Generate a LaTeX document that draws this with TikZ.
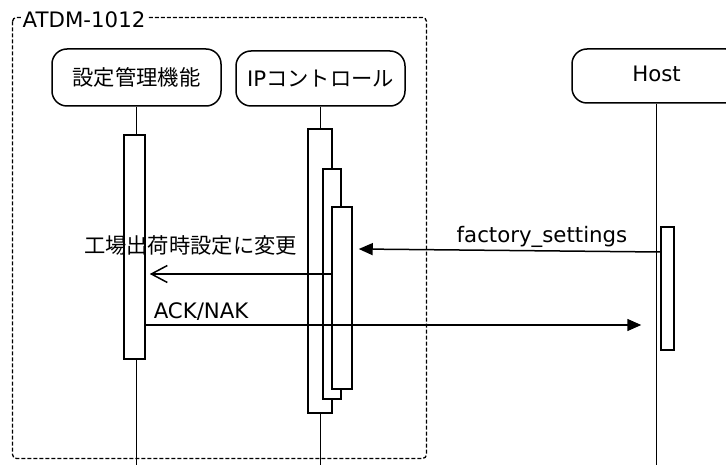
\documentclass[tikz,border=0pt]{standalone}
\usepackage{fontspec}
\setmainfont{DejaVu Sans}
\newfontfamily\cjk{Noto Sans CJK JP}
\usetikzlibrary{arrows.meta}
\begin{document}
\begin{tikzpicture}[x=1pt,y=-1pt, line width=1.5pt,
  every node/.style={font=\fontsize{21.3}{25}\selectfont},
  lifebox/.style={draw, rounded corners=15pt, minimum width=169pt, inner sep=0pt},
  actbox/.style={draw, fill=white, inner sep=0pt},
  lbl/.style={inner sep=0pt},
  frame/.style={draw, dash pattern=on 4pt off 2pt, rounded corners=4pt, line width=1.3pt},
  msg/.style={-{Triangle[length=14pt,width=12pt]}},
  reply/.style={-{Straight Barb[length=16pt,width=17pt]}}]
\clip (0,0) rectangle (726,465);
\fill[white] (0,0) rectangle (726,465);
% frame
\draw[frame] (12.5,17.5) rectangle (426.5,458.5);
\node[lbl, fill=white, inner xsep=2pt, anchor=base west] (atdm) at (20,28) {ATDM-1012};
% lifeline heads
\node[lifebox, minimum height=57pt] (sk) at (136.5,77.5) {\cjk 設定管理機能};
\node[lifebox, minimum height=55pt] (ip) at (320.5,78.5) {IP{\cjk コントロール}};
\node[lifebox, minimum height=54pt] (host) at (656.5,76) {};
\node[lbl, anchor=base] (hostt) at (656.5,82) {Host};
% lifelines
\draw (sk.south) -- (sk.south |- 0,465);
\draw (ip.south) -- (ip.south |- 0,465);
\draw (host.south) -- (host.south |- 0,465);
% activations
\node[actbox, minimum width=21pt, minimum height=224pt] (a1) at (134.5,247) {};
\node[actbox, minimum width=24pt, minimum height=284pt] (ip1) at (320,271) {};
\node[actbox, minimum width=18pt, minimum height=230pt] (ip2) at (332,284) {};
\node[actbox, minimum width=20pt, minimum height=182pt] (ip3) at (342,298) {};
\node[actbox, minimum width=13pt, minimum height=123pt] (h1) at (667.5,288.5) {};
% messages
\draw[msg] (h1.west |- 0,252) -- ([xshift=6pt]ip3.east |- 0,249);
\node[lbl, anchor=base] (fsl) at (542,243) {factory\_settings};
\draw[reply] (ip3.west |- 0,274) -- ([xshift=4pt]a1.east |- 0,274);
\node[lbl] (cl) at (190.5,245.5) {\cjk 工場出荷時設定に変更};
\draw[msg] (a1.east |- 0,325) -- ([xshift=-19pt]h1.west |- 0,325);
\node[lbl, anchor=base west] (ack) at (153,319) {ACK/NAK};
\end{tikzpicture}
\end{document}
